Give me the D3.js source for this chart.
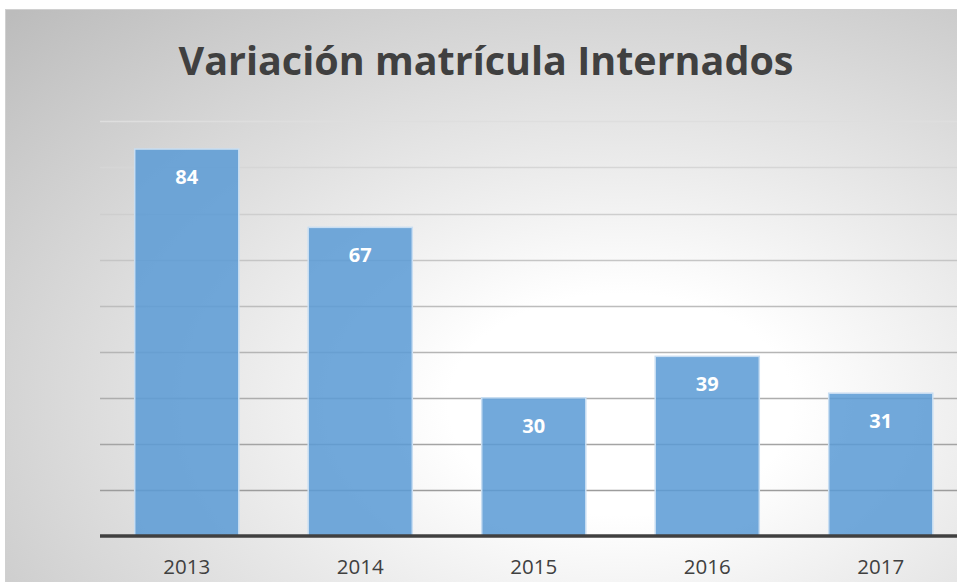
<!DOCTYPE html>
<html>
<head>
<meta charset="utf-8">
<script src="https://cdn.jsdelivr.net/npm/d3@7"></script>
<style>
  body { margin: 0; background: #fff; }
  svg { display: block; }
</style>
</head>
<body>
<script>
// chart data
const years = ["2013", "2014", "2015", "2016", "2017"];
const values = [84, 67, 30, 39, 31];
const gridTicks = [10, 20, 30, 40, 50, 60, 70, 80, 90];
const chartTitle = "Variación matrícula Internados";

const width = 957, height = 582;
const baseY = 536, plotLeft = 100, plotRight = 967.5;

var svg = d3
  .select("body")
  .append("svg")
  .attr("width", width)
  .attr("height", height);

// background gradient from the centre, like the excel chart area
var defs = svg.append("defs");
var grad = defs
  .append("radialGradient")
  .attr("id", "bg")
  .attr("cx", 0.5)
  .attr("cy", 0.5)
  .attr("r", 0.7);
grad.append("stop").attr("offset", "0%").attr("stop-color", "#ffffff");
grad.append("stop").attr("offset", "20%").attr("stop-color", "#ffffff");
grad.append("stop").attr("offset", "100%").attr("stop-color", "#bcbcbc");

svg
  .append("rect")
  .attr("x", 5.5)
  .attr("y", 9.5)
  .attr("width", 1230)
  .attr("height", 790)
  .attr("fill", "url(#bg)")
  .attr("stroke", "#d0d0d0")
  .attr("stroke-width", 1);

// scales
var x = d3
  .scaleBand()
  .domain(years)
  .range([plotLeft, plotRight])
  .paddingInner(0.4)
  .paddingOuter(0.2);

var y = d3.scaleLinear().domain([0, 90]).range([baseY, 121.4]);

// gridlines get darker towards the bottom
var gridColor = d3.scaleLinear().domain([90, 10]).range(["#dedede", "#9c9c9c"]);

svg
  .selectAll("gridlines")
  .data(gridTicks)
  .enter()
  .append("line")
  .attr("x1", plotLeft)
  .attr("x2", width)
  .attr("y1", (d) => Math.round(y(d)) + 0.5)
  .attr("y2", (d) => Math.round(y(d)) + 0.5)
  .attr("stroke", (d) => gridColor(d))
  .attr("stroke-width", 1.3);

// bars
svg
  .selectAll("bars")
  .data(values)
  .enter()
  .append("rect")
  .attr("x", (d, i) => x(years[i]))
  .attr("y", (d) => y(d))
  .attr("width", x.bandwidth())
  .attr("height", (d) => baseY - y(d))
  .attr("fill", "#5b9bd5")
  .attr("fill-opacity", 0.86)
  .attr("stroke", "#c9def2")
  .attr("stroke-width", 1.5);

// value labels
svg
  .selectAll("valueLabels")
  .data(values)
  .enter()
  .append("text")
  .attr("x", (d, i) => x(years[i]) + x.bandwidth() / 2)
  .attr("y", (d) => y(d) + 35)
  .attr("text-anchor", "middle")
  .style("font-family", "'Open Sans', sans-serif")
  .style("font-weight", "bold")
  .style("font-size", "20px")
  .attr("fill", "#ffffff")
  .text((d) => d);

// baseline axis
var xAxis = svg
  .append("g")
  .attr("transform", "translate(0," + baseY + ")")
  .call(d3.axisBottom(x).tickSize(0).tickPadding(23));
xAxis.select(".domain").remove();
xAxis
  .append("line")
  .attr("x1", plotLeft)
  .attr("x2", width)
  .attr("y1", 0)
  .attr("y2", 0)
  .attr("stroke", "#404040")
  .attr("stroke-width", 3.5);
xAxis
  .selectAll("text")
  .style("font-family", "'Open Sans', sans-serif")
  .style("font-size", "20.5px")
  .attr("fill", "#404040");

// title
svg
  .append("text")
  .attr("x", 486)
  .attr("y", 75)
  .attr("text-anchor", "middle")
  .style("font-family", "'Open Sans', sans-serif")
  .style("font-weight", "bold")
  .style("font-size", "39.5px")
  .attr("fill", "#404040")
  .text(chartTitle);
</script>
</body>
</html>
